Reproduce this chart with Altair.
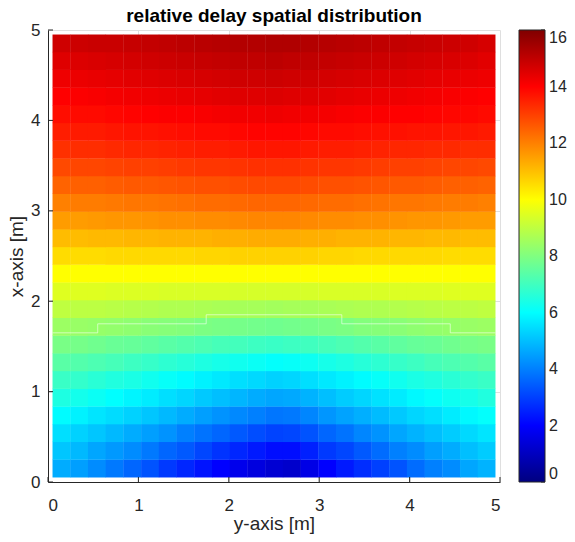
import altair as alt
import pandas as pd

TITLE = "relative delay spatial distribution"
H_AXIS_TITLE = "y-axis [m]"
V_AXIS_TITLE = "x-axis [m]"
axis_ticks = [0, 1, 2, 3, 4, 5]
colorbar_ticks = [0, 2, 4, 6, 8, 10, 12, 14, 16]
jet_domain = [0, 2, 6, 10, 14, 16]
jet_colors = ["#000080", "#0000ff", "#00ffff", "#ffff00", "#ff0000", "#800000"]

grid_start = 0.05
grid_step = 0.196
cell_overlap = 0.004

# relative delay per cell; first row = bottom (x-axis ~0.15 m), columns left→right along y-axis
delay_rows = [
    [4.7, 4.5, 4.2, 3.9, 3.6, 3.3, 2.9, 2.6, 2.3, 2.0, 1.7, 1.5, 1.3, 1.2, 1.6, 2.0, 2.4, 2.7, 3.0, 3.3, 3.7, 4.0, 4.2, 4.6, 4.8],
    [5.1, 4.9, 4.6, 4.4, 4.2, 3.9, 3.6, 3.4, 3.1, 2.8, 2.6, 2.4, 2.2, 2.2, 2.5, 2.9, 3.1, 3.4, 3.7, 4.0, 4.2, 4.5, 4.7, 5.0, 5.2],
    [5.5, 5.3, 5.1, 4.9, 4.7, 4.5, 4.3, 4.0, 3.8, 3.6, 3.4, 3.2, 3.05, 3.1, 3.3, 3.6, 3.8, 4.1, 4.3, 4.6, 4.8, 5.0, 5.2, 5.4, 5.6],
    [5.95, 5.8, 5.6, 5.45, 5.3, 5.1, 4.9, 4.7, 4.5, 4.3, 4.15, 4.0, 3.85, 3.9, 4.1, 4.35, 4.55, 4.75, 4.95, 5.15, 5.35, 5.5, 5.7, 5.9, 6.05],
    [6.45, 6.3, 6.15, 6.0, 5.85, 5.7, 5.5, 5.35, 5.15, 5.0, 4.85, 4.7, 4.6, 4.65, 4.8, 5.0, 5.2, 5.35, 5.55, 5.7, 5.9, 6.05, 6.2, 6.35, 6.5],
    [6.9, 6.8, 6.65, 6.5, 6.4, 6.25, 6.1, 5.95, 5.8, 5.65, 5.5, 5.4, 5.3, 5.35, 5.5, 5.65, 5.8, 5.95, 6.1, 6.25, 6.4, 6.5, 6.65, 6.8, 6.9],
    [7.4, 7.3, 7.2, 7.1, 6.95, 6.85, 6.7, 6.6, 6.45, 6.35, 6.25, 6.15, 6.05, 6.1, 6.2, 6.35, 6.45, 6.6, 6.7, 6.85, 6.95, 7.1, 7.2, 7.3, 7.4],
    [7.9, 7.85, 7.75, 7.65, 7.6, 7.5, 7.4, 7.3, 7.2, 7.1, 7.05, 6.95, 6.9, 6.95, 7.0, 7.1, 7.2, 7.3, 7.4, 7.5, 7.6, 7.65, 7.75, 7.85, 7.9],
    [8.45, 8.4, 8.35, 8.3, 8.25, 8.15, 8.1, 8.05, 7.95, 7.9, 7.85, 7.8, 7.75, 7.8, 7.85, 7.9, 7.95, 8.05, 8.1, 8.15, 8.25, 8.3, 8.35, 8.4, 8.45],
    [9.0, 8.95, 8.95, 8.9, 8.85, 8.8, 8.75, 8.75, 8.7, 8.65, 8.6, 8.6, 8.55, 8.6, 8.6, 8.65, 8.7, 8.75, 8.75, 8.8, 8.85, 8.9, 8.95, 8.95, 9.0],
    [9.5, 9.5, 9.5, 9.45, 9.45, 9.45, 9.4, 9.4, 9.4, 9.4, 9.35, 9.35, 9.35, 9.35, 9.35, 9.4, 9.4, 9.4, 9.4, 9.45, 9.45, 9.45, 9.5, 9.5, 9.5],
    [10.0, 10.0, 10.0, 10.0, 10.0, 10.0, 10.0, 10.0, 10.0, 10.0, 10.0, 10.0, 10.0, 10.0, 10.0, 10.0, 10.0, 10.0, 10.0, 10.0, 10.0, 10.0, 10.0, 10.0, 10.0],
    [10.55, 10.55, 10.55, 10.6, 10.6, 10.6, 10.6, 10.6, 10.65, 10.65, 10.7, 10.7, 10.7, 10.7, 10.7, 10.65, 10.65, 10.6, 10.6, 10.6, 10.6, 10.6, 10.55, 10.55, 10.55],
    [11.05, 11.05, 11.1, 11.1, 11.15, 11.15, 11.2, 11.2, 11.2, 11.25, 11.25, 11.3, 11.3, 11.3, 11.25, 11.25, 11.2, 11.2, 11.2, 11.15, 11.15, 11.1, 11.1, 11.05, 11.05],
    [11.55, 11.55, 11.6, 11.65, 11.65, 11.7, 11.75, 11.75, 11.8, 11.8, 11.85, 11.9, 11.9, 11.9, 11.85, 11.8, 11.8, 11.75, 11.75, 11.7, 11.65, 11.65, 11.6, 11.55, 11.55],
    [12.0, 12.05, 12.05, 12.1, 12.15, 12.15, 12.2, 12.25, 12.3, 12.3, 12.35, 12.4, 12.4, 12.4, 12.35, 12.3, 12.3, 12.25, 12.2, 12.15, 12.15, 12.1, 12.05, 12.05, 12.0],
    [12.45, 12.5, 12.5, 12.55, 12.6, 12.6, 12.65, 12.7, 12.75, 12.75, 12.8, 12.85, 12.85, 12.85, 12.8, 12.75, 12.75, 12.7, 12.65, 12.6, 12.6, 12.55, 12.5, 12.5, 12.45],
    [12.85, 12.9, 12.9, 12.95, 13.0, 13.0, 13.05, 13.1, 13.15, 13.15, 13.2, 13.25, 13.25, 13.25, 13.2, 13.15, 13.15, 13.1, 13.05, 13.0, 13.0, 12.95, 12.9, 12.9, 12.85],
    [13.25, 13.3, 13.3, 13.35, 13.4, 13.4, 13.45, 13.5, 13.55, 13.55, 13.6, 13.65, 13.65, 13.65, 13.6, 13.55, 13.55, 13.5, 13.45, 13.4, 13.4, 13.35, 13.35, 13.3, 13.3],
    [13.55, 13.6, 13.6, 13.65, 13.7, 13.7, 13.75, 13.8, 13.85, 13.85, 13.9, 13.95, 13.95, 13.95, 13.9, 13.85, 13.85, 13.8, 13.75, 13.75, 13.7, 13.7, 13.65, 13.65, 13.6],
    [13.8, 13.85, 13.85, 13.9, 13.95, 14.0, 14.05, 14.05, 14.1, 14.15, 14.2, 14.2, 14.25, 14.2, 14.2, 14.15, 14.1, 14.05, 14.05, 14.0, 14.0, 13.95, 13.9, 13.9, 13.85],
    [14.0, 14.05, 14.1, 14.15, 14.2, 14.25, 14.3, 14.35, 14.4, 14.45, 14.5, 14.5, 14.55, 14.5, 14.5, 14.45, 14.4, 14.35, 14.3, 14.25, 14.2, 14.15, 14.1, 14.05, 14.0],
    [14.25, 14.3, 14.35, 14.4, 14.45, 14.5, 14.55, 14.6, 14.65, 14.7, 14.75, 14.75, 14.8, 14.75, 14.75, 14.7, 14.65, 14.6, 14.55, 14.5, 14.45, 14.4, 14.35, 14.3, 14.25],
    [14.5, 14.55, 14.6, 14.65, 14.7, 14.75, 14.8, 14.85, 14.9, 14.95, 15.0, 15.0, 15.05, 15.0, 15.0, 14.95, 14.9, 14.85, 14.8, 14.75, 14.7, 14.65, 14.6, 14.55, 14.45],
    [14.75, 14.8, 14.85, 14.85, 14.9, 14.95, 15.0, 15.05, 15.1, 15.15, 15.2, 15.2, 15.25, 15.25, 15.2, 15.15, 15.1, 15.05, 15.0, 14.95, 14.9, 14.85, 14.8, 14.75, 14.65],
]

# thin light boundary line drawn over the map (y-axis value, x-axis value)
contour_y = [0.05, 0.55, 0.55, 1.75, 1.75, 3.25, 3.25, 4.45, 4.45, 4.95]
contour_x = [1.65, 1.65, 1.75, 1.75, 1.85, 1.85, 1.75, 1.75, 1.65, 1.65]

FONT = "Liberation Sans"
INK = "#262626"

records = []
n_rows = len(delay_rows)
for r, row in enumerate(delay_rows):
    n_cols = len(row)
    for k, v in enumerate(row):
        records.append({
            "ylo": grid_start + k * grid_step,
            "yhi": grid_start + (k + 1) * grid_step + (cell_overlap if k < n_cols - 1 else 0),
            "xlo": grid_start + r * grid_step,
            "xhi": grid_start + (r + 1) * grid_step + (cell_overlap if r < n_rows - 1 else 0),
            "delay": v,
        })
cells = pd.DataFrame(records)
contour = pd.DataFrame({"yy": contour_y, "xx": contour_x, "i": list(range(len(contour_y)))})
ticks = pd.DataFrame({"t": axis_ticks})
cbar_ticks = pd.DataFrame({"c": colorbar_ticks})

h_scale = alt.Scale(domain=[0, 5], nice=False, zero=False)
v_scale = alt.Scale(domain=[0, 5], nice=False, zero=False)
jet = alt.Scale(domain=jet_domain, range=jet_colors, interpolate="rgb", clamp=True)

h_axis = alt.Axis(title=H_AXIS_TITLE, values=axis_ticks, format="d", ticks=False,
                  labelPadding=15, titlePadding=1)
v_axis = alt.Axis(title=V_AXIS_TITLE, values=axis_ticks, format="d", ticks=False,
                  labelPadding=8, titlePadding=4)

CBAR_X = 471
CBAR_W = 26

heat = alt.Chart(cells).mark_rect(strokeWidth=0).encode(
    x=alt.X("ylo:Q", scale=h_scale, axis=h_axis),
    x2="yhi:Q",
    y=alt.Y("xlo:Q", scale=v_scale, axis=v_axis),
    y2="xhi:Q",
    color=alt.Color("delay:Q", scale=jet, legend=alt.Legend(
        type="gradient",
        orient="none", legendX=CBAR_X, legendY=0, direction="vertical",
        gradientLength=452, gradientThickness=CBAR_W, title=None,
        values=colorbar_ticks, labelFontSize=16, labelFont=FONT, labelColor=INK,
        labelOffset=4, labelOverlap=False, labelBaseline="middle",
        gradientStrokeColor=INK, gradientStrokeWidth=1,
    )),
)

line = alt.Chart(contour).mark_line(color="#ffffff", opacity=0.55, strokeWidth=1,
                                    interpolate="linear").encode(
    x=alt.X("yy:Q", scale=h_scale, axis=h_axis),
    y=alt.Y("xx:Q", scale=v_scale, axis=v_axis),
    order="i:Q",
)

bottom_ticks = alt.Chart(ticks).mark_rule(color=INK, strokeWidth=1).encode(
    x=alt.X("t:Q", scale=h_scale, axis=h_axis),
    y=alt.value(452),
    y2=alt.value(447),
)
left_ticks = alt.Chart(ticks).mark_rule(color=INK, strokeWidth=1).encode(
    y=alt.Y("t:Q", scale=v_scale, axis=v_axis),
    x=alt.value(0),
    x2=alt.value(5),
)

title_mark = alt.Chart(pd.DataFrame({"label": [TITLE]})).mark_text(
    font=FONT, fontSize=19, fontWeight="bold", color="#000000",
    align="center", baseline="alphabetic",
).encode(text="label:N", x=alt.value(226), y=alt.value(-8))

main = alt.layer(heat, line, bottom_ticks, left_ticks, title_mark)

# small inward ticks on the right edge of the colour bar
cbar_tick_layer = alt.Chart(cbar_ticks).mark_rule(color=INK, strokeWidth=1).encode(
    y=alt.Y("c:Q", scale=alt.Scale(domain=[0, 16], nice=False, zero=False), axis=None),
    x=alt.value(CBAR_X + CBAR_W - 4),
    x2=alt.value(CBAR_X + CBAR_W),
)

chart = alt.layer(main, cbar_tick_layer).resolve_scale(y="independent").properties(
    width=452,
    height=452,
    autosize=alt.AutoSizeParams(type="none"),
    padding={"left": 40, "top": 22, "right": 67, "bottom": 52},
).configure_view(stroke=None).configure_axis(
    domainColor=INK, domainWidth=1, labelFont=FONT, labelFontSize=17, labelColor=INK,
    titleFont=FONT, titleFontSize=19, titleFontWeight="normal", titleColor=INK,
    grid=True, gridColor="#dfdfdf", gridWidth=1,
)

chart.save("out.html", embed_options={"renderer": "svg", "actions": False})
